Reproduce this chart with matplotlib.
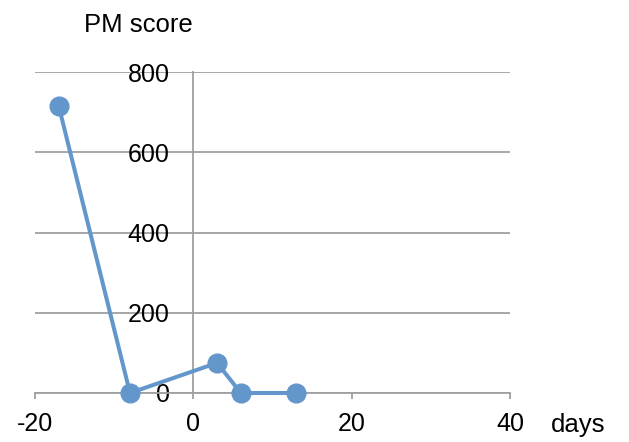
import matplotlib.pyplot as plt

plt.rcParams['font.family'] = ['Liberation Sans', 'DejaVu Sans']
plt.rcParams['axes.unicode_minus'] = False

days = [-17, -8, 3, 6, 13]
pm_score = [715, 0, 75, 0, 0]
x_ticks = [-20, 0, 20, 40]
y_ticks = [0, 200, 400, 600, 800]

grey = '#a0a0a0'
blue = '#6397cc'

fig = plt.figure(figsize=(6.29, 4.42), dpi=100)
ax = fig.add_axes([35 / 629, 1 - 393 / 442, 475 / 629, 321 / 442])

ax.plot(days, pm_score, '-o', color=blue, linewidth=2.9, markersize=13.5,
        clip_on=False, zorder=3)

ax.set_xlim(-20, 40)
ax.set_ylim(0, 800)
ax.set_xticks(x_ticks)
ax.set_yticks(y_ticks)

# y axis sits at x = 0, Excel style
ax.spines['left'].set_position(('data', 0))
ax.spines['left'].set_color(grey)
ax.spines['left'].set_linewidth(1.3)
ax.spines['bottom'].set_color(grey)
ax.spines['bottom'].set_linewidth(1.3)
ax.spines['right'].set_visible(False)
ax.spines['top'].set_visible(False)

ax.yaxis.grid(True, color=grey, linewidth=1.3)
ax.set_axisbelow(True)

ax.tick_params(axis='y', length=0, pad=17, labelsize=18)
ax.tick_params(axis='x', direction='out', length=4, width=1.3, color=grey,
               pad=10, labelsize=18)

fig.text(84 / 629, 1 - 25 / 442, 'PM score', fontsize=18.5, va='center', ha='left')
fig.text(551 / 629, 1 - 425 / 442, 'days', fontsize=18.5, va='center', ha='left')

fig.savefig('out.png', dpi=100)
